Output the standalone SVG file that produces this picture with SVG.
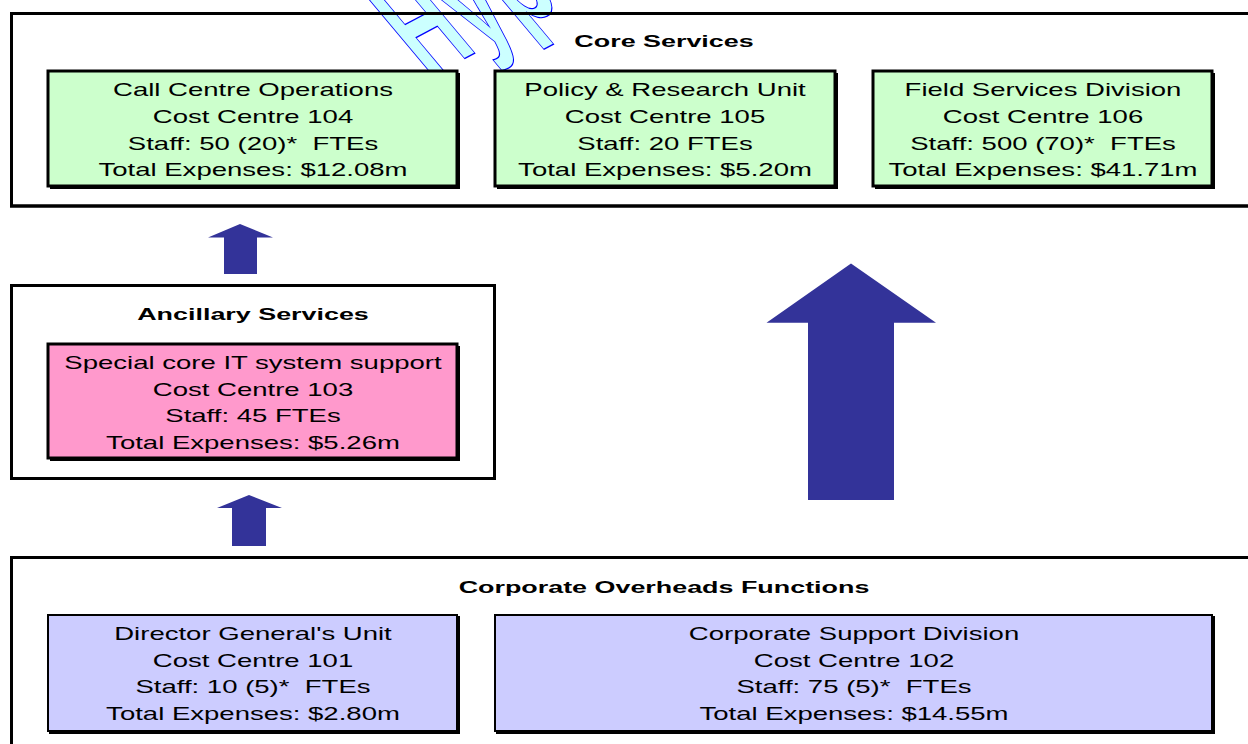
<svg xmlns="http://www.w3.org/2000/svg" width="1248" height="744" viewBox="0 0 1248 744">
<defs>
<style>
.frame{fill:#ffffff;stroke:#000000;stroke-width:3}
.frameline{fill:none;stroke:#000000;stroke-width:3}
.shadow{fill:#000000}
.green{fill:#CCFFCC;stroke:#000000;stroke-width:3}
.pink{fill:#FF99CC;stroke:#000000;stroke-width:3}
.lav{fill:#CCCCFF;stroke:#000000;stroke-width:2}
.t{font-family:"Liberation Sans",Arial,sans-serif;font-size:18px;fill:#000000;text-anchor:middle;white-space:pre}
.h{font-family:"Liberation Sans",Arial,sans-serif;font-size:16.5px;font-weight:bold;fill:#000000;text-anchor:middle}
.arrow{fill:#333399}
.wm{font-family:"Liberation Sans",Arial,sans-serif;font-size:140px;font-weight:bold;fill:#CCFFFF;stroke:#0000FF;stroke-width:1.3}
</style>
</defs>
<rect width="1248" height="744" fill="#ffffff"/>

<g id="core-services">
<rect class="frame" x="11.5" y="13.5" width="1250" height="192.5"/>
<text class="wm" transform="translate(428,78) rotate(-28) skewX(12) scale(0.58,1)">Hypothetical</text>
<rect class="frameline" x="11.5" y="13.5" width="1250" height="192.5"/>
<g transform="translate(664,0) scale(1.63,1)"><text class="h" x="0" y="47">Core Services</text></g>
</g>

<g id="cc104">
<rect class="shadow" x="50" y="73" width="410" height="116"/>
<rect class="green" x="48" y="71" width="409" height="115"/>
<g transform="translate(253,0) scale(1.53,1)">
<text class="t" x="0" y="96.5">Call Centre Operations</text>
<text class="t" x="0" y="123.2">Cost Centre 104</text>
<text class="t" x="0" y="149.9" xml:space="preserve">Staff: 50 (20)*  FTEs</text>
<text class="t" x="0" y="176.5">Total Expenses: $12.08m</text>
</g>
</g>

<g id="cc105">
<rect class="shadow" x="497" y="73" width="341" height="116"/>
<rect class="green" x="495" y="71" width="340" height="115"/>
<g transform="translate(665,0) scale(1.53,1)">
<text class="t" x="0" y="96.5">Policy &amp; Research Unit</text>
<text class="t" x="0" y="123.2">Cost Centre 105</text>
<text class="t" x="0" y="149.9">Staff: 20 FTEs</text>
<text class="t" x="0" y="176.5">Total Expenses: $5.20m</text>
</g>
</g>

<g id="cc106">
<rect class="shadow" x="875" y="73" width="340" height="116"/>
<rect class="green" x="873" y="71" width="339" height="115"/>
<g transform="translate(1043,0) scale(1.53,1)">
<text class="t" x="0" y="96.5">Field Services Division</text>
<text class="t" x="0" y="123.2">Cost Centre 106</text>
<text class="t" x="0" y="149.9" xml:space="preserve">Staff: 500 (70)*  FTEs</text>
<text class="t" x="0" y="176.5">Total Expenses: $41.71m</text>
</g>
</g>

<g id="ancillary-services">
<rect class="frame" x="11.5" y="285.5" width="483" height="193"/>
<g transform="translate(253,0) scale(1.63,1)"><text class="h" x="0" y="320">Ancillary Services</text></g>
</g>

<g id="cc103">
<rect class="shadow" x="50" y="346" width="410" height="115"/>
<rect class="pink" x="48" y="344" width="409" height="114"/>
<g transform="translate(253,0) scale(1.53,1)">
<text class="t" x="0" y="369.2">Special core IT system support</text>
<text class="t" x="0" y="395.8">Cost Centre 103</text>
<text class="t" x="0" y="422.4">Staff: 45 FTEs</text>
<text class="t" x="0" y="449">Total Expenses: $5.26m</text>
</g>
</g>

<g id="corporate-overheads">
<rect class="frame" x="11.5" y="557.5" width="1250" height="200"/>
<g transform="translate(664,0) scale(1.63,1)"><text class="h" x="0" y="593">Corporate Overheads Functions</text></g>
</g>

<g id="cc101">
<rect class="shadow" x="49" y="616" width="411" height="118"/>
<rect class="lav" x="48" y="615" width="409" height="116"/>
<g transform="translate(253,0) scale(1.53,1)">
<text class="t" x="0" y="640.2">Director General's Unit</text>
<text class="t" x="0" y="666.8">Cost Centre 101</text>
<text class="t" x="0" y="693.3" xml:space="preserve">Staff: 10 (5)*  FTEs</text>
<text class="t" x="0" y="720">Total Expenses: $2.80m</text>
</g>
</g>

<g id="cc102">
<rect class="shadow" x="496" y="616" width="719" height="118"/>
<rect class="lav" x="495" y="615" width="717" height="116"/>
<g transform="translate(854,0) scale(1.53,1)">
<text class="t" x="0" y="640.2">Corporate Support Division</text>
<text class="t" x="0" y="666.8">Cost Centre 102</text>
<text class="t" x="0" y="693.3" xml:space="preserve">Staff: 75 (5)*  FTEs</text>
<text class="t" x="0" y="720">Total Expenses: $14.55m</text>
</g>
</g>

<g id="connectors">
<polygon class="arrow" points="240,224 273,237.5 257,237.5 257,274 224,274 224,237.5 208,237.5"/>
<polygon class="arrow" points="249,495 282,508 266,508 266,546 232,546 232,508 217,508"/>
<polygon class="arrow" points="851,263.5 936,322.7 894,322.7 894,500 808,500 808,322.7 766.5,322.7"/>
</g>
</svg>
